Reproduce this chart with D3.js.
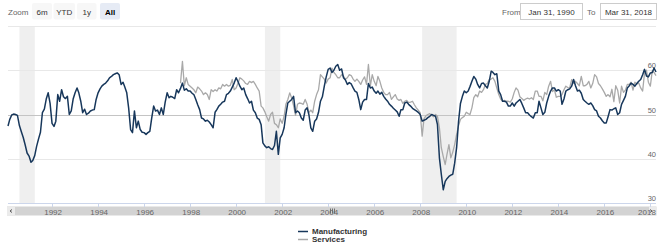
<!DOCTYPE html>
<html>
<head>
<meta charset="utf-8">
<script src="https://cdn.jsdelivr.net/npm/d3@7"></script>
<style>
  body { margin: 0; background: #fff; }
  svg { display: block; font-family: 'Liberation Sans', Arial, sans-serif; }
</style>
</head>
<body>
<div class="chart"></div>
<script>
// ISM indexes, monthly, Jan 1990 - Mar 2018
const seriesNames = ['Manufacturing', 'Services']
const mfgStart = [1990, 0]
const mfgValues = [
  47.4, 48.9, 49.9, 50.1, 50.0, 49.8, 47.5, 46.1, 44.8, 43.1, 41.3, 40.6,
  39.2, 39.6, 40.7, 42.8, 44.5, 46.0, 50.4, 51.2, 53.5, 54.9, 52.5, 48.0,
  47.3, 48.5, 54.5, 53.0, 55.6, 54.0, 53.6, 54.1, 50.0, 50.8, 53.5, 54.9,
  56.0, 54.9, 53.0, 50.4, 51.2, 50.0, 50.3, 50.8, 51.0, 51.1, 53.4, 54.9,
  55.8, 56.4, 56.8, 57.1, 57.6, 58.3, 58.6, 59.0, 59.2, 59.4, 59.0, 56.8,
  57.3, 56.2, 54.9, 51.5, 46.6, 45.9, 50.8, 47.0, 48.5, 46.6, 46.0, 45.9,
  45.5, 45.9, 46.2, 49.2, 51.9, 50.8, 51.0, 50.0, 51.5, 50.0, 52.8, 54.9,
  53.8, 54.1, 53.9, 53.6, 55.6, 54.9, 55.9, 57.1, 55.5, 55.8, 55.3, 55.3,
  54.8, 54.5, 53.4, 52.2, 51.1, 49.2, 49.0, 48.5, 48.7, 48.3, 47.7, 47.0,
  50.5, 51.1, 51.9, 52.3, 52.8, 53.0, 54.5, 54.8, 55.3, 56.2, 57.1, 58.3,
  57.4, 56.4, 55.6, 56.0, 54.5, 53.6, 52.6, 53.0, 51.0, 50.4, 49.2, 48.9,
  47.7, 43.6, 42.9, 42.5, 42.7, 42.3, 42.1, 43.0, 46.2, 41.0, 44.7, 45.5,
  47.0, 50.0, 52.6, 53.0, 53.4, 54.1, 50.4, 50.8, 50.4, 49.2, 48.7, 51.0,
  51.5, 50.0, 47.0, 46.2, 48.5, 49.0, 50.5, 53.0, 54.0, 56.4, 58.5, 60.2,
  60.5, 59.5, 60.0, 60.9, 61.3, 60.0, 60.3, 58.3, 57.8, 56.8, 57.2, 56.9,
  56.0, 55.3, 55.0, 53.4, 51.1, 52.8, 53.4, 53.4, 57.0, 56.0, 56.2, 55.3,
  54.8, 55.3, 54.6, 55.0, 54.1, 53.5, 53.0, 52.3, 51.9, 51.4, 51.0, 50.6,
  49.6, 51.1, 51.1, 52.6, 52.8, 52.3, 51.9, 51.4, 51.1, 50.8, 50.5, 50.0,
  48.5, 48.7, 48.9, 49.3, 49.6, 50.0, 49.8, 49.6, 47.7, 40.2, 36.5, 33.0,
  34.9, 35.5, 36.0, 36.3, 36.5, 39.0, 42.5, 48.5, 52.5, 54.1, 55.3, 54.9,
  55.3, 56.3, 57.5, 58.6, 58.0, 56.8, 56.0, 57.0, 57.1, 56.5, 56.0, 57.5,
  59.8, 59.5, 59.0, 59.2, 55.3, 54.5, 53.0, 53.0, 52.8, 51.9, 51.9, 52.6,
  51.9, 52.6, 53.0, 53.4, 52.5, 51.5, 50.4, 50.4, 49.9, 49.5, 49.2, 50.4,
  50.4, 53.0, 51.5, 50.0, 50.5, 52.6, 54.1, 55.3, 56.0, 56.0, 55.3, 55.6,
  55.3, 52.3, 53.5, 55.3, 55.6, 55.8, 56.4, 57.9, 56.5, 55.3, 55.5, 54.8,
  53.4, 53.0, 52.6, 52.3, 52.6, 52.0, 51.1, 50.8, 49.6, 49.2, 48.6, 48.1,
  48.1, 49.5, 51.1, 51.0, 51.3, 51.5, 50.0, 50.4, 52.3, 53.2, 54.1, 56.0,
  56.5, 57.1, 56.8, 56.4, 57.0, 57.5, 57.9, 59.0, 60.2, 58.7, 58.5, 59.4,
  59.5, 60.5, 59.6
]

// services index starts in Jul 1997
const svcStart = [1997, 6]
const svcValues = [
  57.1, 62.0, 56.5, 58.3, 56.8, 56.4,
  56.0, 55.6, 54.9, 56.2, 55.8, 55.3, 54.5, 54.9, 54.5, 53.4, 55.6, 55.2,
  55.6, 55.3, 56.0, 55.8, 56.8, 56.4, 56.8, 56.4, 56.6, 57.9, 55.6, 56.0,
  57.1, 58.3, 58.0, 57.6, 57.0, 56.8, 57.5, 57.2, 57.5, 56.8, 56.0, 55.3,
  51.9, 51.5, 50.6, 49.5, 48.5, 50.0, 50.5, 48.0, 47.7, 47.0, 49.0, 48.0,
  49.6, 52.3, 53.4, 54.9, 53.7, 52.0, 49.8, 52.3, 52.6, 52.5, 52.3, 53.4,
  52.3, 50.4, 51.0, 50.4, 53.0, 54.5, 55.6, 59.0, 58.5, 58.0, 57.1, 58.0,
  58.3, 60.5, 59.5, 59.0, 58.3, 58.3, 59.0, 58.6, 58.0, 58.3, 59.0, 58.8,
  58.0, 57.5, 58.0, 57.5, 56.8, 57.8, 58.5, 56.8, 61.3, 56.5, 59.0, 57.5,
  56.5, 58.6, 57.5, 56.0, 55.0, 54.5, 54.5, 55.0, 53.4, 54.0, 54.5, 53.5,
  53.2, 53.4, 52.5, 53.0, 53.2, 52.7, 52.8, 53.0, 52.2, 51.5, 51.0, 50.4,
  45.1, 49.0, 49.7, 50.0, 50.2, 49.8, 49.5, 50.0, 49.6, 47.0, 42.5, 40.5,
  38.7, 41.0, 43.2, 40.2, 41.5, 43.2, 45.5, 47.5, 48.9, 49.3, 49.6, 50.5,
  50.2, 50.0, 51.5, 53.8, 54.5, 54.0, 55.3, 55.0, 55.6, 56.8, 57.0, 57.9,
  58.0, 58.3, 57.5, 56.0, 54.5, 53.5, 53.0, 53.2, 53.0, 53.0, 52.8, 53.5,
  55.0, 56.0, 55.5, 54.0, 53.6, 53.2, 53.5, 53.7, 53.5, 53.8, 53.4, 55.3,
  55.3, 54.1, 54.1, 53.1, 55.0, 54.5, 56.4, 57.5, 55.2, 55.6, 53.9, 54.1,
  54.1, 54.5, 55.6, 56.4, 56.1, 56.0, 57.9, 57.0, 57.5, 57.0, 56.5, 58.6,
  56.5, 56.5, 56.8, 57.5, 56.0, 57.0, 59.0, 58.5, 57.0, 56.5, 55.8, 55.0,
  54.1, 54.5, 54.0, 55.7, 52.9, 56.5, 55.5, 52.6, 56.4, 55.0, 55.5, 56.8,
  56.8, 57.3, 55.5, 57.3, 56.9, 57.1, 56.0, 55.3, 59.4, 60.0, 57.3, 56.4,
  59.9, 59.5, 58.8
]

const recessionStart = ['1990-08-01', '2001-04-01', '2008-01-31']
const recessionEnd = ['1991-04-01', '2001-12-01', '2009-07-31']

const yTicks = [30, 40, 50, 60, 70]
const yearTicks = [1992, 1994, 1996, 1998, 2000, 2002, 2004, 2006, 2008, 2010, 2012, 2014, 2016, 2018]
const zoomButtons = ['6m', 'YTD', '1y', 'All']
const rangeFrom = 'Jan 31, 1990'
const rangeTo = 'Mar 31, 2018'

const width = 657
const height = 246
const plot = { left: 8, right: 656, top: 26, bottom: 203 }

const mfgColor = '#17375b'
const svcColor = '#a9a9a9'

let toPoints = (start, values) => values.map((v, i) => ({
  date: new Date(start[0], start[1] + i + 1, 0),
  value: v
}))

let mfg = toPoints(mfgStart, mfgValues)
let svc = toPoints(svcStart, svcValues)

let svg = d3.select('.chart')
  .append('svg')
  .attr('width', width)
  .attr('height', height)

let x = d3.scaleTime()
  .domain([new Date(1990, 0, 31), new Date(2018, 2, 31)])
  .range([plot.left, plot.right])

let y = d3.scaleLinear()
  .domain([30, 70])
  .range([plot.bottom, plot.top])

// recession bands
svg.selectAll('.band')
  .data(recessionStart)
  .enter().append('rect')
  .attr('class', 'band')
  .attr('x', (d) => x(new Date(d)))
  .attr('width', (d, i) => x(new Date(recessionEnd[i])) - x(new Date(d)))
  .attr('y', plot.top)
  .attr('height', plot.bottom - plot.top)
  .attr('fill', '#efefef')

// grid
svg.selectAll('.grid')
  .data(yTicks)
  .enter().append('line')
  .attr('x1', plot.left)
  .attr('x2', plot.right)
  .attr('y1', (d) => Math.round(y(d)) + 0.5)
  .attr('y2', (d) => Math.round(y(d)) + 0.5)
  .attr('stroke', (d) => d === 50 ? '#c4c4c4' : '#e8e8e8')
  .attr('stroke-width', (d) => d === 50 ? 1.2 : 1)

svg.selectAll('.ylab')
  .data(yTicks.filter((d) => d < 70))
  .enter().append('text')
  .attr('x', 656)
  .attr('y', (d) => y(d) - 2)
  .attr('text-anchor', 'end')
  .attr('font-size', 7.5)
  .attr('fill', '#666')
  .text((d) => d)

// lines
let line = d3.line()
  .x((d) => x(d.date))
  .y((d) => y(d.value))

svg.append('path')
  .datum(svc)
  .attr('d', line)
  .attr('fill', 'none')
  .attr('stroke', svcColor)
  .attr('stroke-width', 1.3)
  .attr('stroke-linejoin', 'round')

svg.append('path')
  .datum(mfg)
  .attr('d', line)
  .attr('fill', 'none')
  .attr('stroke', mfgColor)
  .attr('stroke-width', 1.5)
  .attr('stroke-linejoin', 'round')

// x axis + scrollbar strip
svg.append('rect')
  .attr('x', plot.left - 1)
  .attr('y', 206.5)
  .attr('width', plot.right - plot.left + 1)
  .attr('height', 9)
  .attr('fill', '#d3d3d3')

svg.append('rect')
  .attr('x', plot.left - 1).attr('y', 206.5)
  .attr('width', 8).attr('height', 9)
  .attr('fill', '#ebebeb')
svg.append('rect')
  .attr('x', plot.right - 7).attr('y', 206.5)
  .attr('width', 8).attr('height', 9)
  .attr('fill', '#ebebeb')
svg.append('path')
  .attr('d', 'M12,209.5 L10,211 L12,212.5 M650,209.5 L652,211 L650,212.5')
  .attr('fill', 'none')
  .attr('stroke', '#333')
  .attr('stroke-width', 0.8)

let mid = (plot.left + plot.right) / 2
svg.selectAll('.grip')
  .data([-2, 0, 2])
  .enter().append('line')
  .attr('x1', (d) => mid + d + 0.5)
  .attr('x2', (d) => mid + d + 0.5)
  .attr('y1', 208.5)
  .attr('y2', 213.5)
  .attr('stroke', '#333')
  .attr('stroke-width', 0.6)

svg.append('line')
  .attr('x1', plot.left).attr('x2', plot.right)
  .attr('y1', plot.bottom + 0.5).attr('y2', plot.bottom + 0.5)
  .attr('stroke', '#ccd6eb')

svg.selectAll('.xtick')
  .data(yearTicks)
  .enter().append('line')
  .attr('x1', (d) => Math.round(x(new Date(d, 0, 1))) + 0.5)
  .attr('x2', (d) => Math.round(x(new Date(d, 0, 1))) + 0.5)
  .attr('y1', plot.bottom)
  .attr('y2', plot.bottom + 4)
  .attr('stroke', '#ccd6eb')

svg.selectAll('.xlab')
  .data(yearTicks)
  .enter().append('text')
  .attr('x', (d) => Math.min(x(new Date(d, 0, 1)) + 1, plot.right - 9))
  .attr('y', 214.5)
  .attr('text-anchor', 'middle')
  .attr('font-size', 8)
  .attr('fill', '#666')
  .text((d) => d)

// range selector
svg.append('text')
  .attr('x', 8).attr('y', 14.5)
  .attr('font-size', 8).attr('fill', '#666')
  .text('Zoom')

let btnX = [32, 53.5, 77, 100]
let btnW = [20, 21.5, 19.5, 20]
let btn = svg.selectAll('.btn')
  .data(zoomButtons)
  .enter().append('g')
  .attr('transform', (d, i) => 'translate(' + btnX[i] + ',3)')

btn.append('rect')
  .attr('width', (d, i) => btnW[i])
  .attr('height', 16.5)
  .attr('rx', 2)
  .attr('fill', (d) => d === 'All' ? '#e6ebf5' : '#f7f7f7')

btn.append('text')
  .attr('x', (d, i) => btnW[i] / 2)
  .attr('y', 11.5)
  .attr('text-anchor', 'middle')
  .attr('font-size', 8)
  .attr('font-weight', (d) => d === 'All' ? 'bold' : 'normal')
  .attr('fill', (d) => d === 'All' ? '#000' : '#333')
  .text((d) => d)

svg.append('text')
  .attr('x', 502).attr('y', 14.5)
  .attr('font-size', 8).attr('fill', '#666')
  .text('From')
svg.append('text')
  .attr('x', 587).attr('y', 14.5)
  .attr('font-size', 8).attr('fill', '#666')
  .text('To')

let boxes = [[520.5, 62, rangeFrom], [600.5, 56, rangeTo]]
boxes.forEach((b) => {
  svg.append('rect')
    .attr('x', b[0]).attr('y', 3.5)
    .attr('width', b[1]).attr('height', 16)
    .attr('fill', '#fff')
    .attr('stroke', '#cccccc')
    .attr('stroke-width', 1)
  svg.append('text')
    .attr('x', b[0] + b[1] / 2).attr('y', 14.5)
    .attr('text-anchor', 'middle')
    .attr('font-size', 8).attr('fill', '#333')
    .text(b[2])
})

// legend
let legend = svg.selectAll('.legend')
  .data(seriesNames)
  .enter().append('g')
  .attr('transform', (d, i) => 'translate(298,' + (231 + i * 8) + ')')

legend.append('line')
  .attr('x1', 0).attr('x2', 10)
  .attr('y1', 0.5).attr('y2', 0.5)
  .attr('stroke', (d, i) => i === 0 ? mfgColor : svcColor)
  .attr('stroke-width', 1.5)

legend.append('text')
  .attr('x', 14)
  .attr('y', 3)
  .attr('font-size', 8)
  .attr('font-weight', 'bold')
  .attr('fill', '#333')
  .text((d) => d)
</script>
</body>
</html>
